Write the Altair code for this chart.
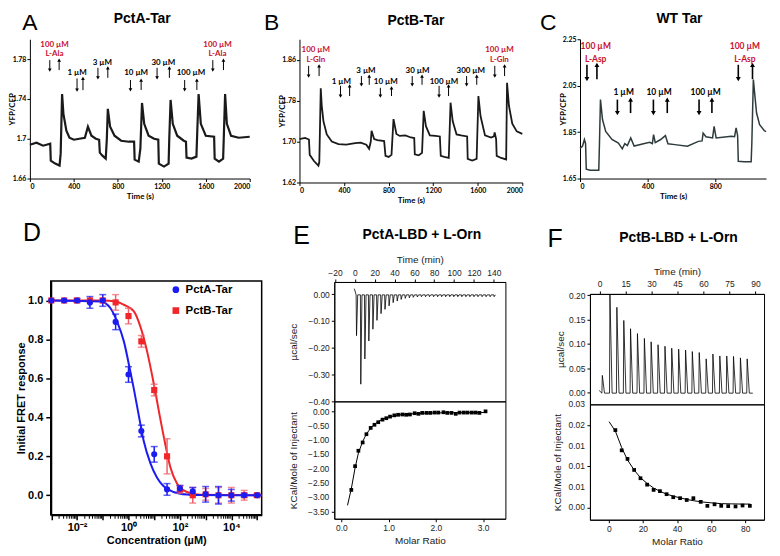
import altair as alt
import pandas as pd

# ---------------- Panel A : PctA-Tar FRET trace ----------------
a_time = [0, 60, 120, 185, 190, 230, 270, 280, 293, 305, 332, 360, 400, 450, 500, 528, 560, 600, 630,
          636, 660, 690, 700, 709, 730, 770, 830, 900, 948, 953, 990, 1005, 1020, 1040, 1080, 1130,
          1168, 1173, 1220, 1262, 1268, 1280, 1300, 1340, 1400, 1420, 1425, 1470, 1515, 1522, 1535,
          1555, 1600, 1676, 1681, 1720, 1758, 1765, 1776, 1792, 1830, 1900, 2000]
a_ratio = [1.694, 1.696, 1.693, 1.695, 1.678, 1.675, 1.673, 1.685, 1.745, 1.725, 1.708, 1.701, 1.699,
           1.700, 1.701, 1.712, 1.703, 1.700, 1.699, 1.686, 1.683, 1.680, 1.700, 1.730, 1.712, 1.703,
           1.698, 1.697, 1.697, 1.679, 1.677, 1.690, 1.736, 1.715, 1.703, 1.700, 1.699, 1.675, 1.672,
           1.675, 1.700, 1.739, 1.715, 1.703, 1.698, 1.697, 1.681, 1.680, 1.682, 1.705, 1.745, 1.715,
           1.703, 1.702, 1.680, 1.677, 1.680, 1.705, 1.745, 1.715, 1.703, 1.701, 1.702]
a_arrow_time = [181, 266, 429, 483, 619, 709, 915, 1012, 1157, 1269, 1408, 1519, 1664, 1761]
a_arrow_dir = ["down", "up"] * 7
a_arrow_top = [1.779, 1.779, 1.7606, 1.7606, 1.7713, 1.7713, 1.759, 1.759, 1.7713, 1.7713, 1.759, 1.759, 1.779, 1.779]
a_arrow_bot = [1.769, 1.769, 1.7488, 1.7488, 1.7612, 1.7612, 1.749, 1.749, 1.7612, 1.7612, 1.749, 1.749, 1.769, 1.769]
a_label_time = [224, 224, 430, 659, 967, 1214, 1465, 1707, 1707]
a_label_y = [1.794, 1.785, 1.7656, 1.776, 1.7656, 1.776, 1.7656, 1.794, 1.785]
a_label_text = ["100 µM", "L-Ala", "1 µM", "3 µM", "10 µM", "30 µM", "100 µM", "100 µM", "L-Ala"]
a_label_red = [True, True, False, False, False, False, False, True, True]

# ---------------- Panel B : PctB-Tar FRET trace ----------------
b_time = [0, 50, 85, 92, 130, 170, 178, 191, 200, 215, 245, 290, 350, 420, 500, 550, 600, 625, 640, 647,
          670, 700, 760, 772, 800, 826, 844, 870, 900, 950, 1000, 1030, 1035, 1070, 1100, 1115, 1135,
          1170, 1220, 1260, 1268, 1300, 1340, 1356, 1375, 1410, 1450, 1505, 1510, 1550, 1590, 1606,
          1625, 1665, 1720, 1745, 1752, 1765, 1770, 1810, 1855, 1863, 1880, 1910, 1950, 2000]
b_ratio = [1.705, 1.707, 1.704, 1.674, 1.662, 1.653, 1.660, 1.804, 1.770, 1.740, 1.714, 1.700, 1.695,
           1.694, 1.697, 1.698, 1.694, 1.686, 1.700, 1.721, 1.705, 1.703, 1.701, 1.672, 1.670, 1.674,
           1.744, 1.715, 1.711, 1.712, 1.708, 1.707, 1.675, 1.673, 1.678, 1.760, 1.730, 1.712, 1.711,
           1.710, 1.672, 1.670, 1.668, 1.776, 1.740, 1.714, 1.712, 1.710, 1.666, 1.663, 1.666, 1.789,
           1.750, 1.712, 1.708, 1.710, 1.718, 1.705, 1.672, 1.668, 1.665, 1.815, 1.770, 1.735, 1.720, 1.715]
b_arrow_time = [82, 176, 368, 450, 556, 626, 726, 826, 1012, 1100, 1253, 1338, 1500, 1591, 1753, 1841]
b_arrow_dir = ["down", "up"] * 8
b_arrow_top = [1.848, 1.848, 1.809, 1.809, 1.828, 1.828, 1.805, 1.805, 1.828, 1.828, 1.809, 1.809, 1.828, 1.828, 1.848, 1.848]
b_arrow_bot = [1.828, 1.828, 1.789, 1.789, 1.811, 1.811, 1.789, 1.789, 1.811, 1.811, 1.789, 1.789, 1.811, 1.811, 1.828, 1.828]
b_label_time = [147, 147, 376, 597, 774, 1059, 1297, 1538, 1795, 1795]
b_label_y = [1.878, 1.859, 1.817, 1.838, 1.817, 1.838, 1.817, 1.838, 1.878, 1.859]
b_label_text = ["100 µM", "L-Gln", "1 µM", "3 µM", "10 µM", "30 µM", "100 µM", "300 µM", "100 µM", "L-Gln"]
b_label_red = [True, True, False, False, False, False, False, False, True, True]

# ---------------- Panel C : WT Tar FRET trace ----------------
c_time = [0, 15, 26, 33, 37, 60, 111, 115, 121, 133, 152, 189, 227, 250, 265, 280, 300, 320, 375, 412,
          428, 435, 445, 477, 505, 520, 561, 635, 700, 722, 728, 745, 784, 793, 805, 895, 914, 923, 932,
          936, 970, 1012, 1016, 1025, 1044, 1062, 1090, 1100]
c_ratio = [1.780, 1.790, 1.818, 1.800, 1.690, 1.686, 1.686, 1.800, 1.990, 1.904, 1.853, 1.818, 1.803,
           1.778, 1.800, 1.792, 1.825, 1.790, 1.800, 1.806, 1.800, 1.839, 1.805, 1.818, 1.835, 1.800,
           1.796, 1.789, 1.810, 1.812, 1.846, 1.830, 1.825, 1.875, 1.825, 1.832, 1.830, 1.868, 1.835,
           1.724, 1.722, 1.722, 1.800, 2.076, 1.932, 1.882, 1.856, 1.852]
c_arrow_time = [41, 100, 221, 299, 434, 516, 704, 780, 936, 1020]
c_arrow_dir = ["down", "up"] * 5
c_arrow_top = [2.14, 2.14, 1.99, 1.99, 1.99, 1.99, 1.99, 1.99, 2.14, 2.14]
c_arrow_bot = [2.078, 2.078, 1.932, 1.932, 1.932, 1.932, 1.932, 1.932, 2.078, 2.078]
c_label_time = [93, 93, 258, 468, 743, 975, 975]
c_label_y = [2.219, 2.164, 2.021, 2.021, 2.021, 2.219, 2.164]
c_label_text = ["100 µM", "L-Asp", "1 µM", "10 µM", "100 µM", "100 µM", "L-Asp"]
c_label_red = [True, True, False, False, False, True, True]

# ---------------- Panel D : dose response ----------------
d_conc = [0.001, 0.00316, 0.01, 0.0316, 0.1, 0.316, 1, 3.16, 10, 31.6, 100, 316, 1000, 3160, 10000, 31600, 100000]
d_pcta_mean = [1.0, 1.0, 1.0, 0.99, 1.0, 0.89, 0.62, 0.33, 0.21, 0.03, 0.035, 0.02, 0.005, 0.0, 0.0, 0.0, 0.0]
d_pcta_err = [0.0, 0.0, 0.01, 0.03, 0.03, 0.04, 0.04, 0.03, 0.04, 0.03, 0.015, 0.02, 0.04, 0.045, 0.03, 0.01, 0.005]
d_pctb_mean = [1.0, 1.0, 1.0, 1.0, 1.0, 0.99, 0.92, 0.79, 0.54, 0.20, 0.03, 0.0, 0.005, 0.0, 0.0, 0.0, 0.0]
d_pctb_err = [0.0, 0.0, 0.0, 0.0, 0.01, 0.04, 0.04, 0.03, 0.03, 0.09, 0.02, 0.04, 0.03, 0.04, 0.04, 0.025, 0.01]
d_fit_a_conc = [0.00095, 0.083, 0.2, 0.363, 0.66, 1.2, 1.62, 2.51, 3.89, 7.08, 12.9, 23.4, 56.2, 186, 631, 151000]
d_fit_a_val = [1.0, 0.995, 0.96, 0.89, 0.79, 0.63, 0.545, 0.41, 0.28, 0.165, 0.09, 0.046, 0.017, 0.004, 0.001, 0.0]
d_fit_b_conc = [0.00095, 0.1, 0.316, 0.66, 1.62, 2.88, 5.25, 9.55, 17.4, 26.9, 41.7, 75.9, 186, 603, 151000]
d_fit_b_val = [1.0, 1.0, 0.995, 0.978, 0.944, 0.867, 0.74, 0.575, 0.39, 0.262, 0.148, 0.062, 0.017, 0.003, 0.0]
d_series = ["PctA-Tar", "PctB-Tar"]

# ---------------- Panel E : ITC PctA-LBD + L-Orn ----------------
e_inj_time = [1.3, 5.6, 9.7, 13.7, 17.8, 21.9, 26.0, 30.0, 34.1, 38.2, 42.3, 46.3, 50.4, 54.5, 58.5, 62.6,
              66.7, 70.8, 74.8, 78.9, 83.0, 87.0, 91.1, 95.2, 99.3, 103.3, 107.4, 111.5, 115.5, 119.6,
              123.7, 127.8, 131.8, 135.9, 140.0]
e_inj_peak = [-0.155, -0.336, -0.242, -0.175, -0.131, -0.098, -0.073, -0.057, -0.044, -0.032, -0.026,
              -0.020, -0.016, -0.014, -0.012, -0.011, -0.010, -0.010, -0.010, -0.010, -0.010, -0.010,
              -0.010, -0.010, -0.010, -0.010, -0.010, -0.010, -0.010, -0.010, -0.010, -0.010, -0.010,
              -0.010, -0.010]
e_ratio = [0.21, 0.29, 0.36, 0.45, 0.53, 0.62, 0.70, 0.78, 0.87, 0.95, 1.03, 1.12, 1.20, 1.29, 1.37, 1.45,
           1.55, 1.63, 1.71, 1.80, 1.88, 1.97, 2.05, 2.16, 2.24, 2.33, 2.42, 2.50, 2.59, 2.67, 2.76, 2.84,
           2.92, 3.05]
e_heat = [-2.74, -1.91, -1.37, -1.08, -0.79, -0.57, -0.46, -0.37, -0.28, -0.23, -0.175, -0.13, -0.11,
          -0.10, -0.11, -0.10, -0.055, -0.077, -0.044, -0.044, -0.044, -0.033, -0.033, -0.022, -0.044,
          -0.044, -0.077, -0.033, -0.033, -0.033, -0.033, -0.033, -0.044, 0.01]
e_fit_ratio = [0.13, 0.21, 0.29, 0.36, 0.45, 0.53, 0.62, 0.70, 0.80, 0.90, 1.0, 1.2, 1.4, 1.7, 2.0, 2.5, 3.05]
e_fit_heat = [-3.28, -2.70, -1.97, -1.45, -1.05, -0.78, -0.58, -0.44, -0.33, -0.25, -0.19, -0.12, -0.085,
              -0.06, -0.045, -0.035, -0.03]
e_heat_ticks = [0.0, -0.5, -1.0, -1.5, -2.0, -2.5, -3.0, -3.5]

# ---------------- Panel F : ITC PctB-LBD + L-Orn ----------------
f_inj_time = [1.3, 5.7, 9.7, 13.7, 17.6, 21.6, 25.6, 29.5, 33.5, 37.5, 41.4, 45.4, 49.4, 53.3, 57.3, 61.3,
              65.2, 69.2, 73.2, 77.1, 81.1, 85.0]
f_inj_peak = [0.035, 0.201, 0.175, 0.148, 0.131, 0.121, 0.111, 0.104, 0.098, 0.095, 0.091, 0.089, 0.087,
              0.084, 0.082, 0.069, 0.079, 0.075, 0.075, 0.074, 0.071, 0.069]
f_ratio = [3.9, 7.6, 11.0, 14.9, 18.6, 22.5, 26.3, 30.0, 33.9, 37.8, 41.8, 45.7, 49.6, 53.9, 57.8, 62.0,
           65.9, 70.0, 74.3, 78.4, 82.7]
f_heat = [0.01875, 0.01384, 0.01176, 0.00908, 0.00707, 0.00551, 0.00424, 0.00394, 0.0032, 0.00246,
          0.00223, 0.00179, 0.00223, 0.00134, 0.00037, 0.00074, 0.00037, 0.0003, 0.00022, 0.00045, 0.00037]
f_fit_ratio = [0.2, 3.9, 7.6, 11.0, 15.0, 18.6, 22.5, 26.3, 30.0, 34.0, 38.0, 42.0, 46.0, 50.0, 55.0, 60.0,
               66.0, 72.0, 78.0, 83.0]
f_fit_heat = [0.0208, 0.0185, 0.0145, 0.0115, 0.0090, 0.0072, 0.0058, 0.0047, 0.0039, 0.0032, 0.0027,
              0.0023, 0.0019, 0.0016, 0.0013, 0.0011, 0.0009, 0.00085, 0.0008, 0.0008]
f_heat_ticks = [0.0, 0.005, 0.01, 0.015, 0.02, 0.025]

RED = "#c8102e"
TFONT = "Lato"
AFONT = "Liberation Sans"
LEG = dict(color="independent", shape="independent")
ITC_LABEL = 8.5


def txt(s, x, y, size, weight="normal", font=AFONT, baseline="alphabetic"):
    return alt.Chart(pd.DataFrame({"s": [s]})).mark_text(
        font=font, fontSize=size, fontWeight=weight, color="black", align="center", baseline=baseline
    ).encode(text="s:N", x=alt.value(x), y=alt.value(y))


def anchor(left, top, w, h, right, bottom):
    # invisible diagonal rule that fixes the panel's layout box
    return alt.Chart(pd.DataFrame({"s": [0]})).mark_rule(opacity=0, strokeWidth=0.01, color="white").encode(
        x=alt.value(-left), x2=alt.value(w + right), y=alt.value(-top), y2=alt.value(h + bottom))


def spacer(w, h):
    return anchor(0, 0, w, h, 0, 0).properties(width=w, height=h)


def trace_axis(values, fmt, title, orient):
    extra = {"titleX": -13, "titleBaseline": "bottom"} if orient == "left" else {"titlePadding": 3}
    return alt.Axis(values=values, format=fmt, title=title, orient=orient, grid=False,
                    labelFont=TFONT, labelFontWeight="bold", labelFontSize=7, labelColor="black",
                    titleFont=TFONT, titleFontWeight="bold", titleFontSize=8, titleColor="black",
                    domainColor="black", tickColor="black", tickSize=3, labelPadding=1,
                    labelOverlap=False, **extra)


def trace_panel(t, v, ar_t, ar_dir, ar_top, ar_bot, lb_t, lb_v, lb_txt, lb_red, xdom, xvals, ydom, yvals,
                yfmt, w, h, letter, lx, ly, title, tx, ty, color, sw, aw, hs, ls, box):
    x = alt.X("t:Q", scale=alt.Scale(domain=xdom, nice=False, zero=False),
              axis=trace_axis(xvals, "d", "Time (s)", "bottom"))
    y = alt.Y("v:Q", scale=alt.Scale(domain=ydom, nice=False, zero=False),
              axis=trace_axis(yvals, yfmt, "YFP/CFP", "left"))
    line = alt.Chart(pd.DataFrame({"t": t, "v": v})).mark_line(color=color, strokeWidth=sw).encode(x=x, y=y)
    adf = pd.DataFrame({"t": ar_t, "dir": ar_dir, "v": ar_top, "v2": ar_bot})
    rules = alt.Chart(adf).mark_rule(color="black", strokeWidth=aw).encode(x="t:Q", y="v:Q", y2="v2:Q")
    heads_dn = alt.Chart(adf[adf.dir == "down"]).mark_point(
        shape="triangle-down", filled=True, color="black", opacity=1, size=hs).encode(x="t:Q", y="v2:Q")
    heads_up = alt.Chart(adf[adf.dir == "up"]).mark_point(
        shape="triangle-up", filled=True, color="black", opacity=1, size=hs).encode(x="t:Q", y="v:Q")
    ldf = pd.DataFrame({"t": lb_t, "v": lb_v, "s": lb_txt, "red": lb_red})
    labs_r = alt.Chart(ldf[ldf.red]).mark_text(font=TFONT, fontWeight="bold", fontSize=ls, baseline="middle",
                                               color=RED).encode(x="t:Q", y="v:Q", text="s:N")
    labs_k = alt.Chart(ldf[~ldf.red]).mark_text(font=TFONT, fontWeight="bold", fontSize=ls, baseline="middle",
                                                color="black").encode(x="t:Q", y="v:Q", text="s:N")
    return alt.layer(line, rules, heads_dn, heads_up, labs_r, labs_k,
                     txt(letter, lx, ly, 23, baseline="top"), txt(title, tx, ty, 14, "bold"),
                     anchor(box[0], box[1], w, h, box[2], box[3])).properties(width=w, height=h)


pa = trace_panel(a_time, a_ratio, a_arrow_time, a_arrow_dir, a_arrow_top, a_arrow_bot, a_label_time,
                 a_label_y, a_label_text, a_label_red, [0, 2000], [0, 400, 800, 1200, 1600, 2000],
                 [1.66, 1.80], [1.66, 1.70, 1.74, 1.78], "~g", 221, 140, "A", 0, -27, "PctA-Tar", 113, -16,
                 "#1a1a1a", 2.2, 1, 14, 8, (21, 30, 9, 34))
pb = trace_panel(b_time, b_ratio, b_arrow_time, b_arrow_dir, b_arrow_top, b_arrow_bot, b_label_time,
                 b_label_y, b_label_text, b_label_red, [0, 2000], [0, 400, 800, 1200, 1600, 2000],
                 [1.62, 1.90], [1.62, 1.66, 1.70, 1.74, 1.78, 1.82, 1.86, 1.90], ".2f", 224, 144, "B", -28,
                 -27, "PctB-Tar", 117, -14, "#1a1a1a", 1.8, 1, 14, 8, (41, 30, 15, 30))
pc = trace_panel(c_time, c_ratio, c_arrow_time, c_arrow_dir, c_arrow_top, c_arrow_bot, c_label_time,
                 c_label_y, c_label_text, c_label_red, [0, 1100], [0, 200, 400, 600, 800, 1000],
                 [1.65, 2.25], [1.65, 1.75, 1.85, 1.95, 2.05, 2.15, 2.25], ".2f", 187, 140, "C", -32, -27,
                 "WT Tar", 100, -16, "#2f3b3b", 1.5, 1.6, 24, 8.5, (43, 30, 0, 34))

# ---------------- D ----------------
rows = []
for s, means, errs in [("PctB-Tar", d_pctb_mean, d_pctb_err), ("PctA-Tar", d_pcta_mean, d_pcta_err)]:
    for c, m, e in zip(d_conc, means, errs):
        rows.append({"series": s, "conc": c, "m": m, "lo": m - e, "hi": m + e, "e": e})
ddf = pd.DataFrame(rows)
fit_df = pd.concat([
    pd.DataFrame({"series": "PctA-Tar", "conc": d_fit_a_conc, "m": d_fit_a_val}),
    pd.DataFrame({"series": "PctB-Tar", "conc": d_fit_b_conc, "m": d_fit_b_val})])
DBLUE, DRED = "#1b1bf2", "#f0262a"
d_legend = alt.Legend(orient="none", legendX=120, legendY=3, title=None, labelFont=AFONT,
                      labelFontSize=11.5, labelFontWeight="bold", labelColor="black",
                      symbolSize=45, rowPadding=8, symbolStrokeWidth=0)
dcol = alt.Color("series:N", scale=alt.Scale(domain=d_series, range=[DBLUE, DRED]), legend=d_legend)
dshape = alt.Shape("series:N", scale=alt.Scale(domain=d_series, range=["circle", "square"]), legend=d_legend)
dx = alt.X("conc:Q", scale=alt.Scale(type="log", domain=[0.00095, 151000], nice=False),
           axis=alt.Axis(values=[1e-3, 1e-2, 1e-1, 1, 10, 100, 1e3, 1e4, 1e5],
                         labelExpr="datum.value==0.01?'10⁻²':datum.value==1?'10⁰':datum.value==100?'10²':datum.value==10000?'10⁴':''",
                         title="Concentration (µM)", grid=False, labelFont=AFONT, labelFontWeight="bold",
                         labelFontSize=11, labelColor="black", titleFont=AFONT, titleFontSize=11,
                         titleFontWeight="bold", titleColor="black", domainColor="black", domainWidth=2,
                         tickColor="black", tickWidth=1.5, tickSize=5, labelPadding=2, labelFlush=False,
                         titlePadding=2, labelOverlap=False))
dy = alt.Y("m:Q", scale=alt.Scale(domain=[-0.1, 1.1], nice=False),
           axis=alt.Axis(values=[0, 0.2, 0.4, 0.6, 0.8, 1.0], format=".1f", title="Initial FRET response",
                         grid=False, labelFont=AFONT, labelFontWeight="bold", labelFontSize=11,
                         labelColor="black", titleFont=AFONT, titleFontSize=11, titleFontWeight="bold",
                         titleColor="black", domainColor="black", domainWidth=2, tickColor="black",
                         tickWidth=1.5, tickSize=5, labelPadding=3, titlePadding=1, labelOverlap=False))
minor = [m * 10 ** k for k in range(-3, 5) for m in range(2, 10)]
minor_ticks = alt.Chart(pd.DataFrame({"conc": minor})).mark_rule(color="black", strokeWidth=1).encode(
    x="conc:Q", y=alt.value(236), y2=alt.value(239))
fit_a = alt.Chart(fit_df[fit_df.series == "PctA-Tar"]).mark_line(
    interpolate="monotone", strokeWidth=2, color=DBLUE).encode(x=dx, y=dy)
fit_b = alt.Chart(fit_df[fit_df.series == "PctB-Tar"]).mark_line(
    interpolate="monotone", strokeWidth=2, color=DRED).encode(x="conc:Q", y="m:Q")
errd = ddf[ddf.e > 0]
layers_err = []
for s, col in [("PctB-Tar", "#f0606a"), ("PctA-Tar", DBLUE)]:
    sd = errd[errd.series == s]
    layers_err.append(alt.Chart(sd).mark_rule(strokeWidth=1.5, color=col).encode(x="conc:Q", y="lo:Q", y2="hi:Q"))
    layers_err.append(alt.Chart(sd).mark_tick(orient="horizontal", size=7, thickness=1.5, color=col).encode(
        x="conc:Q", y="lo:Q"))
    layers_err.append(alt.Chart(sd).mark_tick(orient="horizontal", size=7, thickness=1.5, color=col).encode(
        x="conc:Q", y="hi:Q"))
dpts = alt.Chart(ddf).mark_point(filled=True, opacity=1, size=38).encode(
    x="conc:Q", y="m:Q", color=dcol, shape=dshape, order=alt.Order("series:N", sort="descending"))
pd_ = alt.layer(fit_b, fit_a, *layers_err, dpts, minor_ticks, txt("D", -19, -40, 25),
                anchor(41, 67, 212, 235, 20, 31)).properties(
    width=212, height=235, view=alt.ViewBackground(stroke="black", strokeWidth=1.5))


# ---------------- ITC helpers ----------------
def itc_axis(values, fmt, title, orient, tpad=6, labels=True):
    return alt.Axis(values=values, format=fmt, title=title, orient=orient, grid=False, labels=labels,
                    labelFont=AFONT, labelFontSize=ITC_LABEL, labelColor="#222", titleFont=AFONT,
                    titleFontSize=10, titleFontWeight="normal", titleColor="#222", domainColor="black",
                    tickColor="black", tickSize=3, labelPadding=2, titlePadding=tpad, labelFlush=False,
                    labelOverlap=False)


def ytick_labels(values, field):
    # y tick labels drawn as text through the panel's own y scale
    return alt.Chart(pd.DataFrame({field: values})).mark_text(
        font=AFONT, fontSize=ITC_LABEL, color="#222", align="right", baseline="middle").encode(
        y=f"{field}:Q", text=alt.Text(f"{field}:Q", format=".2f"), x=alt.value(-5))


def thermo(inj_t, inj_p, base, start, end_t, w_up, w_down):
    tt, vv = [start[0]], [start[1]]
    for t, p in zip(inj_t, inj_p):
        tt += [t, t + w_up, t + w_down]
        vv += [base, p, base]
    tt.append(end_t)
    vv.append(base)
    return pd.DataFrame({"t": tt, "v": vv})


FRAME = alt.ViewBackground(stroke="black", strokeWidth=1)

e_th = thermo(e_inj_time, e_inj_peak, -0.003, (-0.5, 0.02), 141.5, 0.4, 1.6)
e_top = alt.layer(
    alt.Chart(e_th).mark_line(color="black", strokeWidth=0.8).encode(
        x=alt.X("t:Q", scale=alt.Scale(domain=[-20.7, 151.7], nice=False),
                axis=itc_axis(list(range(-20, 141, 20)), "d", "Time (min)", "top", 4)),
        y=alt.Y("v:Q", scale=alt.Scale(domain=[-0.40, 0.045], nice=False),
                axis=itc_axis([0.0, -0.1, -0.2, -0.3, -0.4], ".2f", "µcal/sec", "left", 9))),
    txt("PctA-LBD +  L-Orn", 88, -43, 14, "bold"), txt("E", -33, -38, 25),
    anchor(51, 68, 172, 120, 30, 0),
).properties(width=172, height=120, view=FRAME)
e_bot = alt.layer(
    alt.Chart(pd.DataFrame({"r": e_fit_ratio, "q": e_fit_heat})).mark_line(color="black", strokeWidth=1).encode(
        x=alt.X("r:Q", scale=alt.Scale(domain=[-0.15, 3.47], nice=False),
                axis=itc_axis([0, 0.5, 1, 1.5, 2, 2.5, 3, 3.5], ".1f", "Molar Ratio", "bottom", 3)),
        y=alt.Y("q:Q", scale=alt.Scale(domain=[-3.75, 0.36], nice=False),
                axis=itc_axis(e_heat_ticks, ".2f", "KCal/Mole of Injectant", "left", 32, labels=False))),
    alt.Chart(pd.DataFrame({"r": e_ratio, "q": e_heat})).mark_point(
        shape="square", filled=True, color="black", opacity=1, size=14).encode(x="r:Q", y="q:Q"),
    ytick_labels(e_heat_ticks, "q"),
    anchor(51, 0, 172, 118, 30, 27),
).properties(width=172, height=118, view=FRAME)

f_th = thermo(f_inj_time, f_inj_peak, -0.0015, (-0.3, 0.004), 88.5, 0.25, 1.5)
f_top = alt.layer(
    alt.Chart(f_th).mark_line(color="black", strokeWidth=0.8).encode(
        x=alt.X("t:Q", scale=alt.Scale(domain=[-5.6, 95], nice=False),
                axis=itc_axis(list(range(0, 91, 15)), "d", "Time (min)", "top", 4)),
        y=alt.Y("v:Q", scale=alt.Scale(domain=[-0.0245, 0.2025], nice=False),
                axis=itc_axis([0.0, 0.05, 0.1, 0.15, 0.2], ".2f", "µcal/sec", "left", 3))),
    txt("PctB-LBD + L-Orn", 89, -52, 14, "bold"), txt("F", -35, -47, 25),
    anchor(53, 80, 175, 111, 7, 0),
).properties(width=175, height=111, view=FRAME)
f_bot = alt.layer(
    alt.Chart(pd.DataFrame({"r": f_fit_ratio, "q": f_fit_heat})).mark_line(color="black", strokeWidth=1).encode(
        x=alt.X("r:Q", scale=alt.Scale(domain=[-11, 91], nice=False),
                axis=itc_axis([0, 20, 40, 60, 80], "d", "Molar Ratio", "bottom", 3)),
        y=alt.Y("q:Q", scale=alt.Scale(domain=[-0.003, 0.025], nice=False),
                axis=itc_axis(f_heat_ticks, ".2f", "KCal/Mole of Injectant", "left", 24, labels=False))),
    alt.Chart(pd.DataFrame({"r": f_ratio, "q": f_heat})).mark_point(
        shape="square", filled=True, color="black", opacity=1, size=14).encode(x="r:Q", y="q:Q"),
    ytick_labels(f_heat_ticks, "q"),
    anchor(53, 0, 175, 116, 7, 26),
).properties(width=175, height=116, view=FRAME)

# layout: plot areas of cells are aligned at the start of every row/column, so a 1px spacer
# leads each row and each bottom-row column; panel offsets then come from the anchor boxes.
pe = alt.vconcat(e_top, e_bot, spacing=0, bounds="flush")
pf = alt.vconcat(f_top, f_bot, spacing=0, bounds="flush")
col_d = alt.vconcat(spacer(1, 1), pd_, spacing=0).resolve_legend(**LEG)
col_e = alt.vconcat(spacer(1, 1), pe, spacing=0)
col_f = alt.vconcat(spacer(1, 1), pf, spacing=0)

top = alt.hconcat(spacer(1, 1), pa, pb, pc, spacing=0)
bottom = alt.hconcat(spacer(1, 1), col_d, col_e, col_f, spacing=0).resolve_legend(**LEG)
chart = alt.vconcat(top, bottom, spacing=0).resolve_legend(**LEG).configure_view(stroke=None).properties(
    padding=0, background="white")

chart.save("out.html", embed_options={"renderer": "svg", "actions": False})
